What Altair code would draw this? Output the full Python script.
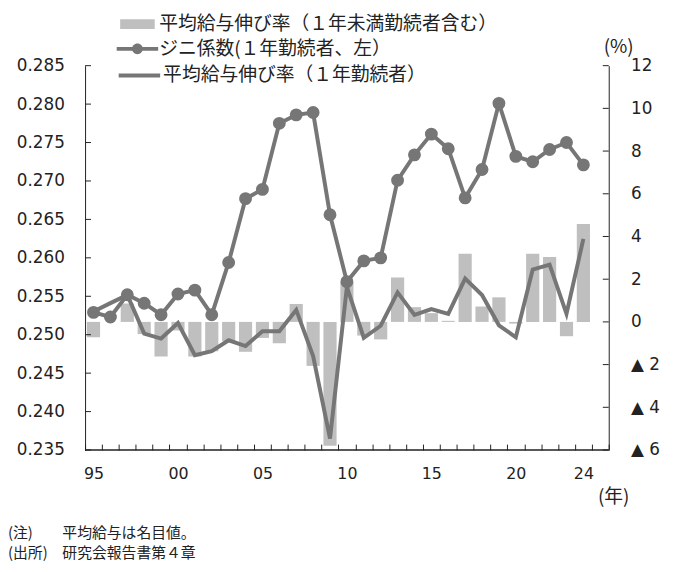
import pandas as pd
import altair as alt

# data
years = list(range(1995, 2025))
gini = [0.2529, 0.2523, 0.2552, 0.2541, 0.2526, 0.2553, 0.2558, 0.2526, 0.2594, 0.2677,
        0.2689, 0.2775, 0.2786, 0.2789, 0.2656, 0.2569, 0.2596, 0.2600, 0.2701, 0.2734,
        0.2761, 0.2742, 0.2678, 0.2715, 0.2801, 0.2732, 0.2725, 0.2741, 0.2750, 0.2721]
wage_all = [-0.72, 0.0, 0.86, -0.57, -1.62, -0.4, -1.62, -1.37, -0.9, -1.4,
            -0.75, -1.0, 0.84, -2.06, -5.8, 1.85, -0.64, -0.82, 2.08, 0.69,
            0.41, 0.05, 3.19, 0.72, 1.15, -0.08, 3.19, 3.04, -0.67, 4.58]
wage_1yr = [0.49, 0.88, 1.26, -0.55, -0.78, -0.05, -1.56, -1.37, -0.86, -1.13,
            -0.44, -0.44, 0.56, -1.6, -5.46, 1.64, -0.75, -0.18, 1.38, 0.33,
            0.60, 0.38, 2.03, 1.26, -0.16, -0.72, 2.45, 2.68, 0.38, 3.89]

band_years = years + [2025]           # one empty band after 2024
label_years = [1995, 2000, 2005, 2010, 2015, 2020, 2024]
gini_ticks = [0.235, 0.240, 0.245, 0.250, 0.255, 0.260, 0.265, 0.270, 0.275, 0.280, 0.285]
pct_ticks = [-6, -4, -2, 0, 2, 4, 6, 8, 10, 12]

L1 = "平均給与伸び率（１年未満勤続者含む）"
L2 = "ジニ係数(１年勤続者、左）"
L3 = "平均給与伸び率（１年勤続者）"

W, H = 530, 389
JP = "Noto Sans CJK JP"
NUM = "DejaVu Sans"
GREY = "#767676"
BAR = "#bfbfbf"
INK = "#222"

df = pd.DataFrame({"year": years, "gini": gini, "all": wage_all, "one": wage_1yr})

# year axis: ticks at the band edges; the axis is lifted 6px so the ticks point inward
xscale = alt.Scale(domain=band_years, paddingInner=0, paddingOuter=0)
xaxis = alt.Axis(labelExpr="indexof(%s, datum.value) >= 0 ? substring(datum.label, 2) : ''"
                 % str(label_years),
                 tickBand="extent", ticks=True, tickSize=6, tickColor=INK, domain=False,
                 offset=-6, labelAngle=0, labelPadding=16, labelFont=NUM, labelFontSize=16,
                 labelColor=INK, title=None)
xenc = alt.X("year:O", scale=xscale, axis=xaxis)


def legend(y, path, stroke_w=0):
    return alt.Legend(orient="none", legendX=43, legendY=y, title=None, padding=0,
                      labelFont=JP, labelFontSize=19, labelColor=INK, labelLimit=500,
                      labelOffset=12, symbolSize=400, symbolType=path,
                      symbolStrokeWidth=stroke_w, symbolOpacity=1)


def color(name, col, lg):
    return alt.Color("series:N", scale=alt.Scale(domain=[name], range=[col]), legend=lg)


pct_scale = alt.Scale(domain=[-6, 12], nice=False, zero=False)
pct_axis = alt.Axis(orient="right", values=pct_ticks, ticks=False, grid=False,
                    labelExpr="datum.value < 0 ? '▲ ' + abs(datum.value) : datum.label",
                    labelPadding=22, labelFont=NUM, labelFontSize=17, labelColor=INK,
                    domainColor=INK, title=None)

bars = alt.Chart(df).transform_calculate(series="'%s'" % L1).mark_bar(
    width=alt.RelativeBandSize(0.78)).encode(
    x=xenc, y=alt.Y("all:Q", scale=pct_scale, axis=pct_axis),
    color=color(L1, BAR, legend(-52, "M-1.75,-0.5H1.75V0.5H-1.75Z")))

wage_line = alt.Chart(df).transform_calculate(series="'%s'" % L3).mark_line(
    strokeWidth=4).encode(
    x=xenc, y=alt.Y("one:Q", scale=pct_scale, axis=pct_axis),
    color=color(L3, GREY, legend(-2, "M-2.1,0H2.1", 4)))

pct_tick_marks = alt.Chart(pd.DataFrame({"v": pct_ticks})).mark_rule(
    color=INK, strokeWidth=1).encode(
    y=alt.Y("v:Q", scale=pct_scale, axis=pct_axis), x=alt.value(W - 6), x2=alt.value(W))

right = alt.layer(bars, wage_line, pct_tick_marks).resolve_scale(color="independent")

gini_scale = alt.Scale(domain=[0.235, 0.285], nice=False, zero=False)
gini_axis = alt.Axis(orient="left", values=gini_ticks, format=".3f", ticks=False, grid=False,
                     labelPadding=21, labelFont=NUM, labelFontSize=17, labelColor=INK,
                     domainColor=INK, title=None)

gini_line = alt.Chart(df).mark_line(strokeWidth=4, color=GREY).encode(
    x=xenc, y=alt.Y("gini:Q", scale=gini_scale, axis=gini_axis))

gini_points = alt.Chart(df).transform_calculate(series="'%s'" % L2).mark_point(
    filled=True, size=170, opacity=1).encode(
    x=xenc, y=alt.Y("gini:Q", scale=gini_scale, axis=gini_axis),
    color=color(L2, GREY, legend(
        -27, "M-2.1,-0.2H2.1V0.2H-2.1Z M0.55,0A0.55,0.55,0,1,1,-0.55,0A0.55,0.55,0,1,1,0.55,0Z")))

gini_tick_marks = alt.Chart(pd.DataFrame({"v": gini_ticks})).mark_rule(
    color=INK, strokeWidth=1).encode(
    y=alt.Y("v:Q", scale=gini_scale, axis=gini_axis), x=alt.value(0), x2=alt.value(6))

baseline = alt.Chart(pd.DataFrame({"year": [1995]})).mark_rule(
    color=INK, strokeWidth=1.3).encode(x=alt.value(0), x2=alt.value(W), y=alt.value(H))

texts = pd.DataFrame({
    "t": ["(%)", "(年)", "(注)", "平均給与は名目値。", "(出所)", "研究会報告書第４章"],
    "x": [540, 535, -78, -23, -78, -23],
    "y": [-19, 437, 473, 473, 493, 493],
    "s": [19, 19, 15, 15, 15, 15],
    "a": ["center", "center", "left", "left", "left", "left"],
})
notes = []
for _, r in texts.iterrows():
    notes.append(alt.Chart(pd.DataFrame({"t": [r["t"]]})).mark_text(
        font=JP, fontSize=float(r["s"]), color=INK, align=r["a"], baseline="middle").encode(
        text="t:N", x=alt.value(int(r["x"])), y=alt.value(int(r["y"]))))

left = alt.layer(gini_line, gini_points, gini_tick_marks, baseline, *notes
                 ).resolve_scale(color="independent")

chart = alt.layer(right, left).resolve_scale(y="independent", color="independent").properties(
    width=W, height=H,
    padding={"left": 78, "top": 55, "right": 61, "bottom": 112},
    autosize=alt.AutoSizeParams(type="none"),
).configure_view(stroke=None).configure_axis(grid=False)

chart.save("out.html", embed_options={"renderer": "svg", "actions": False})
